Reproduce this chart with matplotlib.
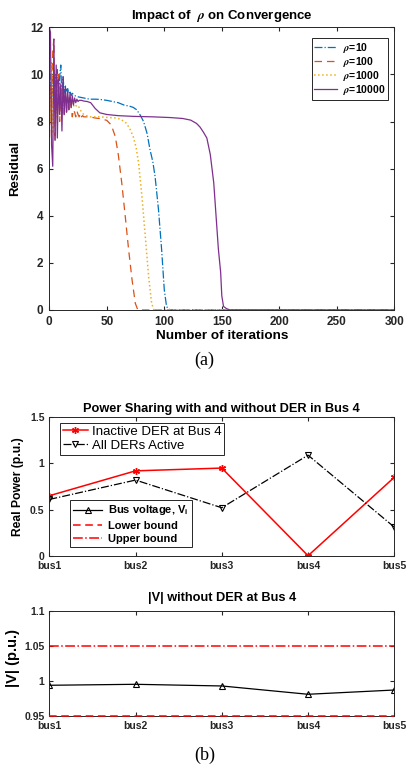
import matplotlib
matplotlib.use("Agg")
import matplotlib.pyplot as plt

# ---- (a) residual vs iterations ----
it_rho10 = [0, 1, 2, 3, 4, 5, 6, 7, 8, 9, 10, 11, 12, 13, 14, 15, 16, 17, 18, 19,
            20, 22, 25, 30, 35, 40, 44, 50, 55, 60, 65, 70, 73, 76, 79, 82, 85,
            87.6, 90, 92, 95, 97.7, 100, 102, 105, 300]
res_rho10 = [9.2, 10.0, 8.8, 9.8, 9.0, 10.0, 8.5, 10.2, 8.9, 9.9, 10.4, 8.8, 9.9,
             9.2, 9.5, 9.3, 9.4, 9.2, 9.3, 9.1, 9.2, 9.1, 9.05, 9.0, 8.95, 8.95,
             8.94, 8.9, 8.85, 8.8, 8.7, 8.65, 8.6, 8.5, 8.28, 8.0, 7.5, 6.8, 6.3,
             5.66, 4.24, 2.55, 0.85, 0.14, 0.0, 0.0]

it_rho100 = [0, 1, 2, 3, 4, 5, 6, 7, 8, 9, 10, 11, 12, 13, 14, 15, 16, 17, 18, 19,
             20, 21, 22, 23, 24, 25, 26, 27, 28, 29, 30, 35, 40, 45, 50, 53, 55,
             57.4, 60, 63, 66, 69, 72, 74.8, 77, 300]
res_rho100 = [6.8, 9.5, 8.0, 11.0, 11.5, 7.2, 9.0, 8.6, 10.0, 8.0, 9.2, 8.5, 9.4,
              8.2, 9.2, 8.4, 9.0, 8.5, 8.9, 8.6, 8.2, 8.5, 8.4, 8.2, 8.45, 8.3, 8.2,
              8.35, 8.2, 8.25, 8.2, 8.2, 8.15, 8.12, 8.05, 7.9, 7.7, 7.36, 6.6, 5.4,
              4.0, 2.55, 1.27, 0.28, 0.0, 0.0]

it_rho1000 = [0, 1, 2, 3, 4, 5, 6, 7, 8, 9, 10, 11, 12, 13, 14, 15, 16, 17, 18, 19,
              20, 22, 24, 26, 28, 30, 35, 44, 58, 62, 67, 70, 73, 75.5, 77.7, 80.6,
              83.5, 86.4, 89, 91, 300]
res_rho1000 = [9.0, 8.0, 10.5, 7.5, 10.0, 8.0, 9.5, 8.2, 9.6, 8.3, 9.4, 8.4, 9.3,
               8.5, 9.2, 8.6, 9.1, 8.6, 9.0, 8.7, 8.8, 8.6, 8.7, 8.6, 8.4, 8.3, 8.2,
               8.2, 8.15, 8.1, 7.93, 7.7, 7.36, 6.9, 6.22, 4.8, 3.11, 1.41, 0.28,
               0.0, 0.0]

it_rho10000 = [0, 1, 2, 3, 4, 5, 6, 7, 8, 9, 10, 11, 12, 13, 14, 15, 16, 17, 18, 19,
               20, 21, 22, 23, 24, 25, 26, 28, 30, 33, 36, 40, 44, 50, 60, 73, 90,
               105, 116, 123, 128, 131, 134, 137, 140, 143, 145, 147, 149, 150,
               151.5, 154, 157, 300]
res_rho10000 = [12.0, 11.8, 7.0, 6.1, 11.5, 7.2, 10.4, 7.3, 9.8, 8.3, 9.6, 7.6, 9.9,
                8.3, 9.5, 8.4, 9.3, 8.5, 9.2, 8.6, 9.1, 8.7, 9.0, 8.8, 8.95, 8.85,
                8.9, 8.9, 8.87, 8.85, 8.8, 8.55, 8.37, 8.3, 8.25, 8.22, 8.2, 8.17,
                8.13, 8.06, 7.92, 7.77, 7.55, 7.3, 6.6, 5.4, 4.0, 2.6, 1.6, 0.6,
                0.15, 0.06, 0.0, 0.0]

rho_labels = [r"$\rho$=10", r"$\rho$=100", r"$\rho$=1000", r"$\rho$=10000"]

# ---- (b) power sharing and bus voltages ----
buses = ["bus1", "bus2", "bus3", "bus4", "bus5"]
p_inactive = [0.65, 0.92, 0.95, 0.0, 0.85]
p_all_active = [0.61, 0.82, 0.52, 1.09, 0.31]
v_bus = [0.9936, 0.995, 0.9926, 0.9807, 0.9868]
v_lower = 0.95
v_upper = 1.05

plt.rcParams.update({
    "font.family": ["Liberation Sans", "DejaVu Sans"],
    "font.weight": "bold",
    "axes.labelweight": "bold",
    "axes.titleweight": "bold",
    "font.size": 7.5,
    "mathtext.fontset": "stix",
    "xtick.direction": "in",
    "ytick.direction": "in",
    "xtick.top": True,
    "ytick.right": True,
    "xtick.major.size": 3,
    "ytick.major.size": 3,
    "axes.edgecolor": "#262626",
    "xtick.color": "#262626",
    "ytick.color": "#262626",
    "axes.linewidth": 0.7,
})

fig = plt.figure(figsize=(4.07, 7.68), dpi=100)
W = 0.8477
ax1 = fig.add_axes([0.1211, 0.5964, W, 0.368])
ax2 = fig.add_axes([0.1211, 0.2764, W, 0.1802])
ax3 = fig.add_axes([0.1211, 0.0681, W, 0.1363])

# matlab default colours
colors = ["#0072BD", "#D95319", "#EDB120", "#7E2F8E"]

ax1.plot(it_rho10, res_rho10, color=colors[0], lw=0.9, linestyle="-.", label=rho_labels[0])
ax1.plot(it_rho100, res_rho100, color=colors[1], lw=0.9, linestyle=(0, (6, 4)), label=rho_labels[1])
ax1.plot(it_rho1000, res_rho1000, color=colors[2], lw=1.1, linestyle=":", label=rho_labels[2])
ax1.plot(it_rho10000, res_rho10000, color=colors[3], lw=0.9, linestyle="-", label=rho_labels[3])
ax1.set_xlim(0, 300)
ax1.set_ylim(0, 12)
ax1.set_xticks(range(0, 301, 50))
ax1.set_yticks(range(0, 13, 2))
ax1.tick_params(labelsize=8.5, pad=4.5)
ax1.set_xlabel("Number of iterations", fontsize=9.7, labelpad=1.5)
ax1.set_ylabel("Residual", fontsize=9.5, labelpad=6)
ax1.set_title(r"Impact of  $\rho$ on Convergence", fontsize=9.5, pad=6)
leg = ax1.legend(loc="upper right", bbox_to_anchor=(0.983, 0.961), fontsize=7.5,
                 fancybox=False, edgecolor="#262626", framealpha=1, handlelength=2.2,
                 borderpad=0.25, labelspacing=0.0, handletextpad=0.6, borderaxespad=0)
leg.get_frame().set_linewidth(0.7)
fig.text(0.503, 0.531, "(a)", family="Liberation Serif", fontweight="normal",
         fontsize=13, ha="center", va="center")

# power sharing
x = range(len(buses))
l_inact, = ax2.plot(x, p_inactive, color="red", lw=1.1, marker=(6, 2, 0), markersize=5,
                    markeredgewidth=1.0, label="Inactive DER at Bus 4")
l_all, = ax2.plot(x, p_all_active, color="black", lw=0.9, linestyle="-.", marker="v",
                  markersize=4.5, markerfacecolor="none", markeredgewidth=0.8,
                  label="All DERs Active")
ax2.set_xlim(0, 4)
ax2.set_ylim(0, 1.5)
ax2.set_yticks([0, 0.5, 1, 1.5])
ax2.set_yticklabels(["0", "0.5", "1", "1.5"])
ax2.set_xticks(list(x))
ax2.set_xticklabels(buses)
ax2.set_ylabel("Real Power (p.u.)", fontsize=8.7, labelpad=4)
ax2.set_title("Power Sharing with and without DER in Bus 4", fontsize=9.2, pad=4)
leg1 = ax2.legend(handles=[l_inact, l_all], loc="upper left", bbox_to_anchor=(0.031, 0.959),
                  prop={"weight": "normal", "size": 9.5}, fancybox=False, edgecolor="#262626",
                  framealpha=1, handlelength=1.9, borderpad=0.2, labelspacing=0.15,
                  handletextpad=0.3, borderaxespad=0)
leg1.get_frame().set_linewidth(0.7)
ax2.add_artist(leg1)

# voltage magnitudes
l_v, = ax3.plot(x, v_bus, color="black", lw=0.9, marker="^", markersize=5,
                markerfacecolor="none", markeredgewidth=0.8, label="Bus voltage, V$_\\mathregular{i}$")
l_lo = ax3.axhline(v_lower, color="red", lw=1.1, linestyle=(0, (5, 3)), label="Lower bound",
                   clip_on=False, zorder=3)
l_up = ax3.axhline(v_upper, color="red", lw=1.1, linestyle="-.", label="Upper bound")
ax3.set_xlim(0, 4)
ax3.set_ylim(0.95, 1.1)
ax3.set_yticks([0.95, 1.0, 1.05, 1.1])
ax3.set_yticklabels(["0.95", "1", "1.05", "1.1"])
ax3.set_xticks(list(x))
ax3.set_xticklabels(buses)
ax3.set_ylabel("|V| (p.u.)", fontsize=10.5, labelpad=2)
ax3.yaxis.set_label_coords(-0.085, 0.55)
ax3.set_title("|V| without DER at Bus 4", fontsize=9.2, pad=7)

# matlab put this legend over the power sharing axes
leg2 = ax2.legend(handles=[l_v, l_lo, l_up], loc="upper left", bbox_to_anchor=(0.060, 0.402),
                  fontsize=8, fancybox=False, edgecolor="#262626", framealpha=1,
                  handlelength=2.6, borderpad=0.3, labelspacing=0.3, handletextpad=0.5,
                  borderaxespad=0)
leg2.get_frame().set_linewidth(0.7)

fig.text(0.503, 0.016, "(b)", family="Liberation Serif", fontweight="normal",
         fontsize=13, ha="center", va="center")

fig.savefig("out.png", dpi=100)
